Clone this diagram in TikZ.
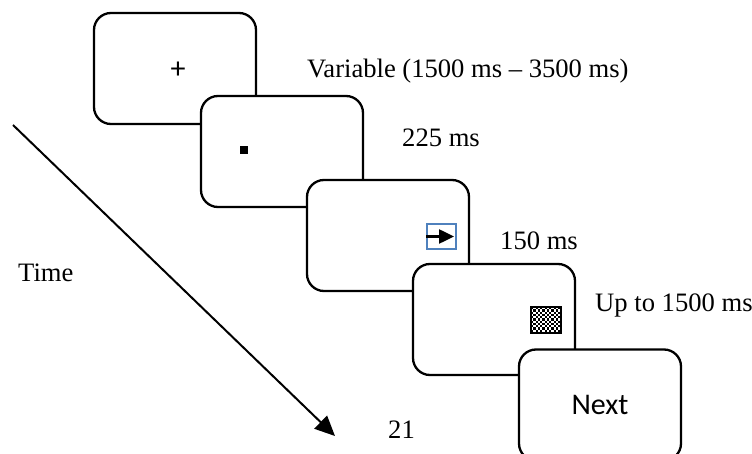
\documentclass[tikz,border=0pt]{standalone}
\usepackage{fontspec}
\setmainfont{Liberation Serif}
\newfontfamily\slidefont{Carlito}
\usetikzlibrary{arrows.meta}
\definecolor{iconblue}{HTML}{4F81BD}
\begin{document}
\begin{tikzpicture}[x=1pt,y=-1pt,
  slide/.style={draw=black, line width=2.3pt, fill=white, rounded corners=17pt,
    minimum width=162pt, minimum height=111pt, inner sep=0pt,
    font=\slidefont\fontsize{30}{36}\selectfont},
  lbl/.style={anchor=base west, inner sep=0pt, font=\fontsize{26.6}{30}\selectfont},
  frame/.style={line width=2pt, inner sep=0pt, fill=none},
]
\useasboundingbox (0,0) rectangle (752,454);
\clip (0,0) rectangle (752,454);

% five stacked screens, later ones on top
\node[slide] (s1) at (175,68.5) {};
\node[slide] (s2) at (282,151.5) {};
\node[slide] (s3) at (388,235.5) {};
\node[slide] (s4) at (494,319.5) {};
\node[slide] (s5) at (600,405) {Next};

% fixation cross
\node[inner sep=0pt, font=\slidefont\fontsize{30}{36}\selectfont] (plus) at (178,70) {+};

% small square cue
\node[fill=black, minimum size=8pt, inner sep=0pt] (dot) at (244,150) {};

% arrow target in a blue frame
\node[frame, draw=iconblue, minimum width=29pt, minimum height=25pt] (cue) at (441.5,236.5) {};
\draw[line width=2.5pt, -{Triangle[length=15pt,width=14pt]}] (cue.west) -- ([xshift=-3pt]cue.east);

% checkerboard mask
\coordinate (mask) at (546,320);
\begin{scope}
  \clip (531,307) rectangle (561,333);
  \foreach \i in {0,...,13}{
    \foreach \j in {0,...,11}{
      \pgfmathtruncatemacro\chk{mod(\i+\j,2)}
      \ifnum\chk=0
        \fill (531+\i*2.25,307+\j*2.25) rectangle ++(2.25,2.25);
      \fi
    }
  }
\end{scope}
\node[frame, draw=black, line width=2.5pt, minimum width=30pt, minimum height=26pt] (maskframe) at (mask) {};

% time axis
\coordinate (tstart) at (13,125);
\coordinate (tend) at (335,436);
\draw[line width=2pt, -{Triangle[length=20pt,width=18pt]}] (tstart) -- (tend);

% durations and captions
\node[lbl] (l1) at (307,78) {Variable (1500 ms – 3500 ms)};
\node[lbl] (l2) at (402,147) {225 ms};
\node[lbl] (l3) at (500,250) {150 ms};
\node[lbl] (l4) at (595,312) {Up to 1500 ms};
\node[lbl] (time) at (18,281) {Time};
\node[lbl] (pg) at (388,438) {21};
\end{tikzpicture}
\end{document}
